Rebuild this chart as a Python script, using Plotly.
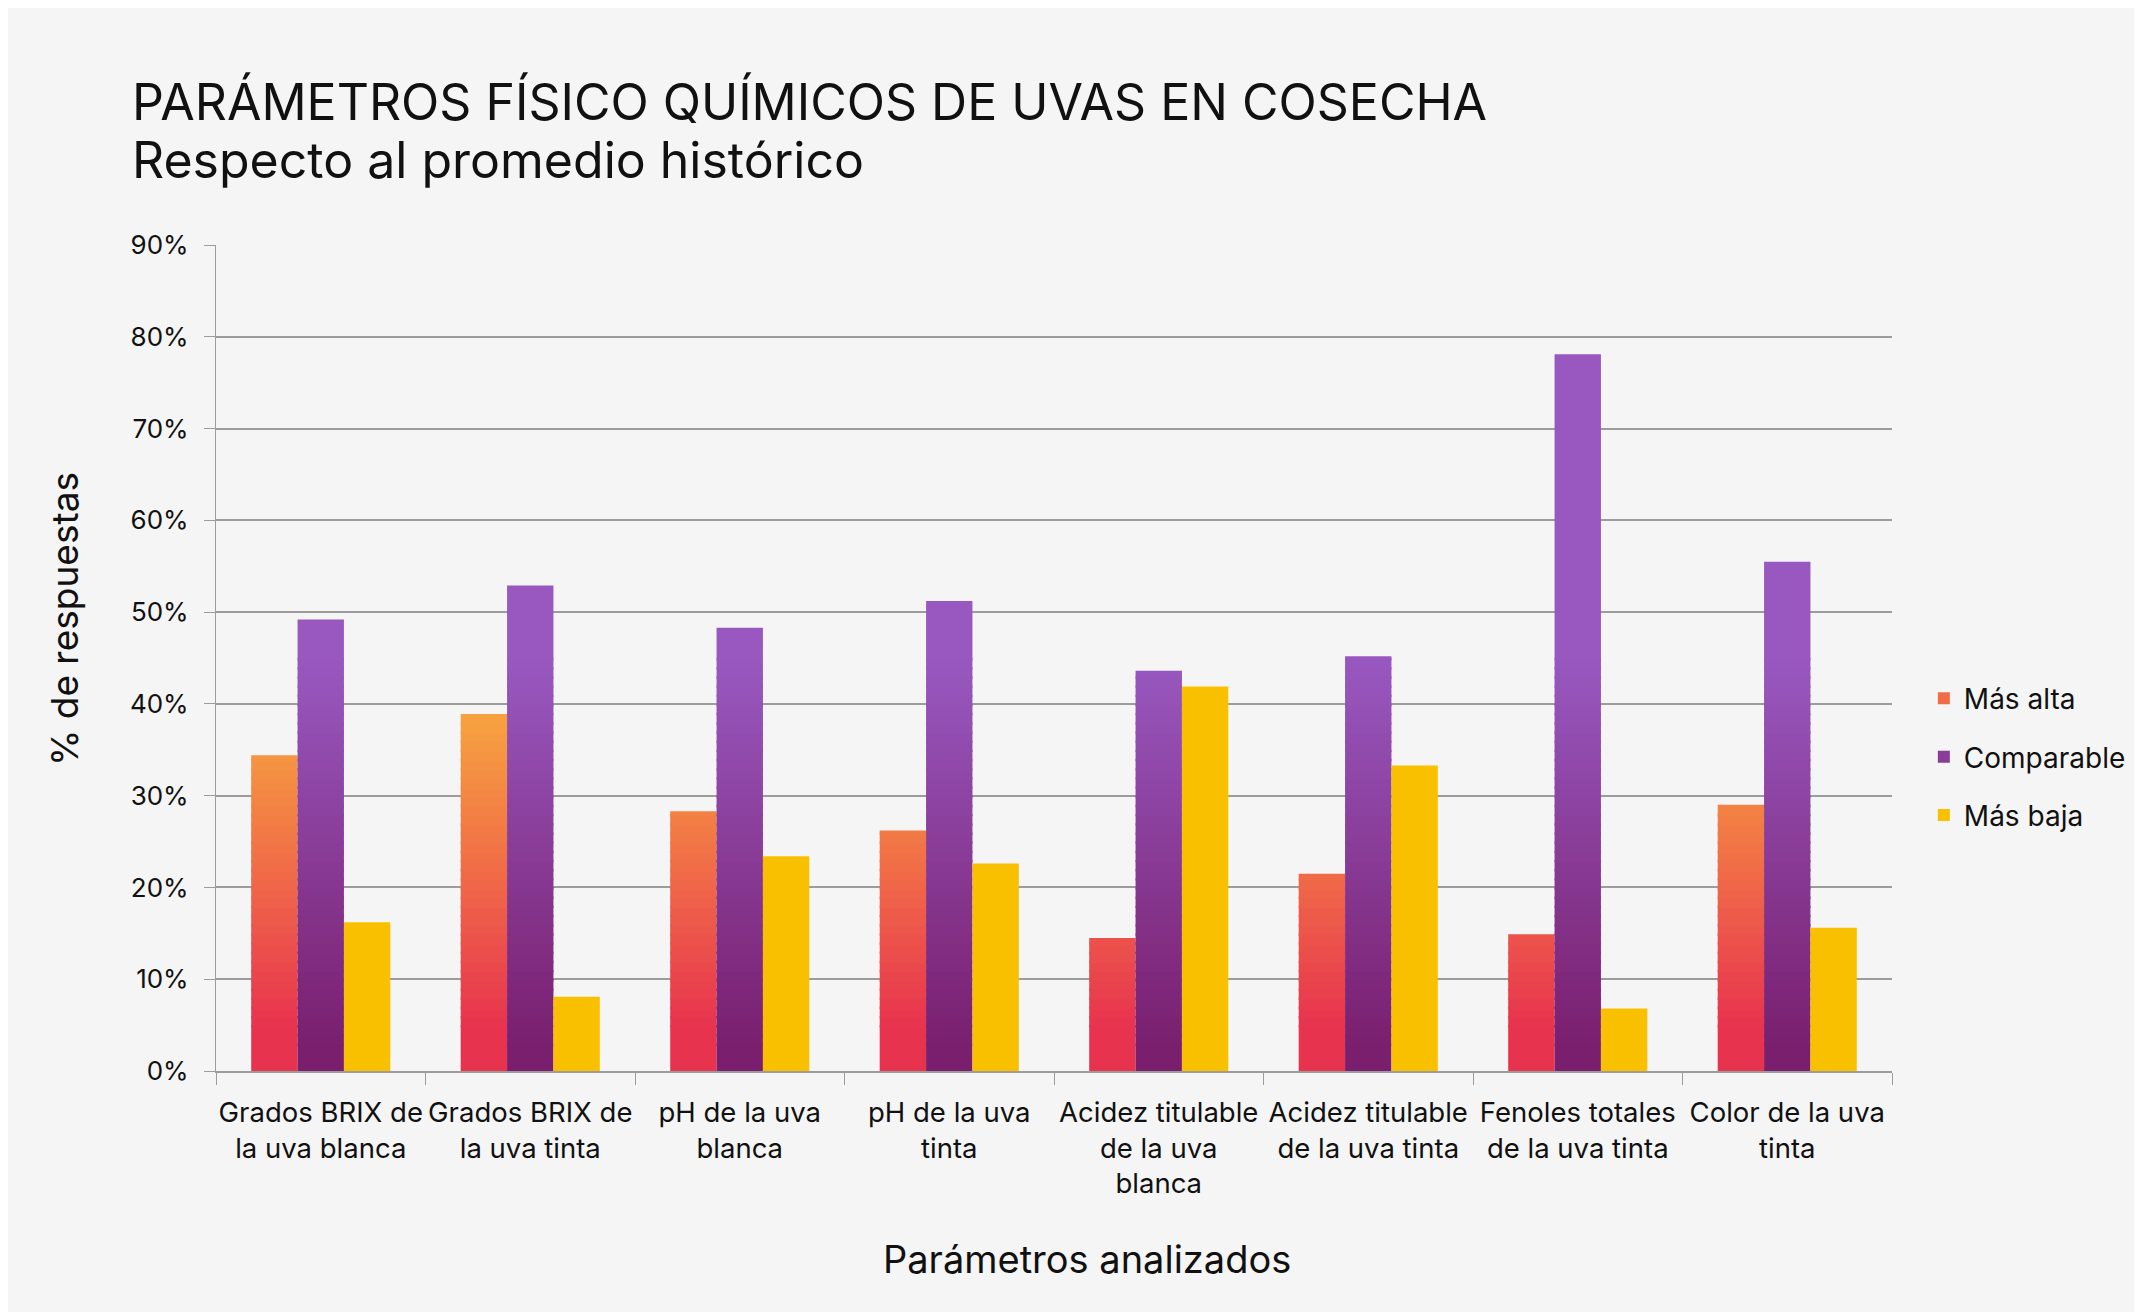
import plotly.graph_objects as go

categorias = [
    "Grados BRIX de<br>la uva blanca",
    "Grados BRIX de<br>la uva tinta",
    "pH de la uva<br>blanca",
    "pH de la uva<br>tinta",
    "Acidez titulable<br>de la uva<br>blanca",
    "Acidez titulable<br>de la uva tinta",
    "Fenoles totales<br>de la uva tinta",
    "Color de la uva<br>tinta",
]
mas_alta = [34.4, 38.9, 28.3, 26.2, 14.5, 21.5, 14.9, 29.0]
comparable = [49.2, 52.9, 48.3, 51.2, 43.6, 45.2, 78.1, 55.5]
mas_baja = [16.2, 8.1, 23.4, 22.6, 41.9, 33.3, 6.8, 15.6]

FUENTE = "Inter"
GRIS = "#9c9c9c"
FONDO = "#f5f5f5"
TEXTO = "#111111"

# area de trazado (px dentro de la figura)
ML, MR, MT, MB = 208, 258, 237, 249
ANCHO, ALTO = 2142, 1312
PW, PH = ANCHO - ML - MR, ALTO - MT - MB


def hex_rgb(c):
    c = c.lstrip("#")
    return [int(c[i:i + 2], 16) for i in (0, 2, 4)]


def mezclar(c1, c2, t):
    a, b = hex_rgb(c1), hex_rgb(c2)
    return "rgb(%d,%d,%d)" % tuple(round(a[i] + (b[i] - a[i]) * t) for i in range(3))


# barras con degradado vertical: se apilan franjas finas de color (mismo offsetgroup)
# cada franja baja un poco sobre la anterior para que no se vean costuras
def barras_degradado(fig, nombre, valores, c_bajo, c_alto, desde, hasta):
    cortes = [0] + list(range(desde, hasta + 1)) + [90]
    medio = len(cortes) // 2
    solape = 0.25
    for k, (lo, hi) in enumerate(zip(cortes[:-1], cortes[1:])):
        t = min(max(((lo + hi) / 2 - desde) / (hasta - desde), 0), 1)
        b = max(lo - solape, 0)
        alto = [min(v, hi) - b if v > lo else None for v in valores]
        fig.add_trace(go.Bar(
            x=categorias, y=alto, base=b,
            name=nombre, offsetgroup=nombre, legendgroup=nombre,
            showlegend=(k == medio),
            marker=dict(color=mezclar(c_bajo, c_alto, t), line=dict(width=0)),
            hoverinfo="skip",
        ))


fig = go.Figure()
barras_degradado(fig, "Más alta", mas_alta, "#e8334f", "#f7a040", 5, 38)
barras_degradado(fig, "Comparable", comparable, "#7a1f6e", "#9858c0", 3, 45)
fig.add_trace(go.Bar(
    x=categorias, y=mas_baja, name="Más baja", offsetgroup="Más baja",
    legendgroup="Más baja", marker=dict(color="#f9c000", line=dict(width=0)),
))


def px_x(x):
    return (x - ML) / PW


def px_y(y):
    return (ALTO - MB - y) / PH


anotaciones = [
    dict(text="PARÁMETROS FÍSICO QUÍMICOS DE UVAS EN COSECHA", x=px_x(122), y=px_y(94),
         xanchor="left", yanchor="middle", font=dict(size=50)),
    dict(text="Respecto al promedio histórico", x=px_x(122), y=px_y(152),
         xanchor="left", yanchor="middle", font=dict(size=50)),
    dict(text="% de respuestas", x=px_x(56), y=px_y(611), textangle=-90,
         xanchor="center", yanchor="middle", font=dict(size=37)),
    dict(text="Parámetros analizados", x=px_x(1079), y=px_y(1251),
         xanchor="center", yanchor="middle", font=dict(size=38)),
]
for a in anotaciones:
    a.update(xref="paper", yref="paper", showarrow=False)
    a["font"].update(family=FUENTE, color=TEXTO)

fig.update_layout(
    width=ANCHO, height=ALTO,
    margin=dict(l=ML, r=MR, t=MT, b=MB),
    paper_bgcolor=FONDO, plot_bgcolor=FONDO,
    font=dict(family=FUENTE, color=TEXTO, size=26),
    barmode="group", bargap=0.336, bargroupgap=0,
    annotations=anotaciones,
    legend=dict(
        x=1.019, xanchor="left", y=0.38, yanchor="middle",
        traceorder="grouped", tracegroupgap=19,
        font=dict(size=28), bgcolor="rgba(0,0,0,0)",
        itemclick=False,
    ),
    xaxis=dict(
        showline=True, linecolor=GRIS, linewidth=1.5,
        ticks="outside", ticklen=12, tickcolor=GRIS, tickwidth=1.3,
        tickson="boundaries", tickfont=dict(size=27.5), ticklabelstandoff=16,
        tickangle=0,
    ),
    yaxis=dict(
        range=[0, 90], dtick=10, ticksuffix="%",
        showgrid=True, gridcolor=GRIS, gridwidth=1.5,
        showline=True, linecolor=GRIS, linewidth=1.3,
        ticks="outside", ticklen=11, tickcolor=GRIS, tickwidth=1.3,
        zeroline=False, tickfont=dict(size=26), ticklabelstandoff=10,
    ),
)

fig.write_html("out.html")
